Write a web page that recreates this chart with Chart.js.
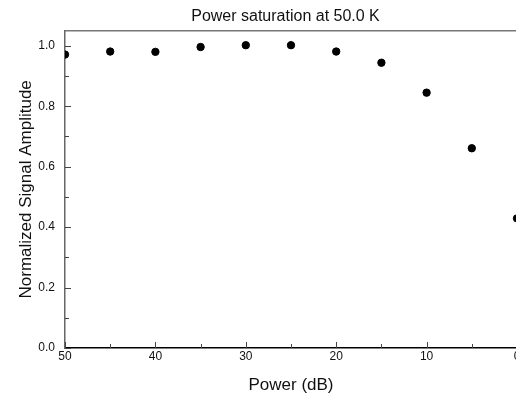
<!DOCTYPE html>
<html>
<head>
<meta charset="utf-8">
<script src="https://cdn.jsdelivr.net/npm/chart.js@4.4.1/dist/chart.umd.min.js"></script>
<style>
  html, body { margin: 0; padding: 0; background: #fff; overflow: hidden; }
  #wrap { width: 516px; height: 396px; overflow: hidden; }
  canvas { display: block; }
</style>
</head>
<body>
<div id="wrap"><canvas id="chart" width="571" height="396"></canvas></div>
<script>
// power saturation data
const powerDb = [50, 45, 40, 35, 30, 25, 20, 15, 10, 5, 0];
const amplitude = [0.971, 0.981, 0.980, 0.996, 1.002, 1.002, 0.981, 0.944, 0.845, 0.661, 0.429];

const xTicks = [50, 40, 30, 20, 10, 0];
const xMinor = [45, 35, 25, 15, 5];
const yTicks = [0.0, 0.2, 0.4, 0.6, 0.8, 1.0];
const yMinor = [0.1, 0.3, 0.5, 0.7, 0.9];

const FONT = '"Liberation Sans", Arial, sans-serif';

// inward tick marks like the original plotting package
const innerTicks = {
  id: 'innerTicks',
  afterDatasetsDraw(chart) {
    const { ctx, scales: { x, y } } = chart;
    ctx.save();
    ctx.strokeStyle = '#444';
    ctx.lineWidth = 1;
    const bottom = chart.chartArea.bottom, left = chart.chartArea.left;
    const xt = (v, len) => {
      const px = Math.round(x.getPixelForValue(v)) + 0.5;
      ctx.beginPath(); ctx.moveTo(px, bottom); ctx.lineTo(px, bottom - len); ctx.stroke();
    };
    const yt = (v, len) => {
      const py = Math.round(y.getPixelForValue(v)) + 0.5;
      ctx.beginPath(); ctx.moveTo(left, py); ctx.lineTo(left + len, py); ctx.stroke();
    };
    xTicks.forEach(v => xt(v, 6)); xMinor.forEach(v => xt(v, 4));
    yTicks.forEach(v => yt(v, 6)); yMinor.forEach(v => yt(v, 4));
    ctx.restore();
  }
};

new Chart(document.getElementById('chart'), {
  type: 'scatter',
  data: {
    datasets: [{
      data: powerDb.map((p, i) => ({ x: p, y: amplitude[i] })),
      backgroundColor: '#000',
      borderColor: '#000',
      pointRadius: 3.7,
      pointHoverRadius: 3.7,
      clip: 0
    }]
  },
  options: {
    responsive: false,
    animation: false,
    layout: { padding: 0 },
    plugins: {
      legend: { display: false },
      tooltip: { enabled: false },
      title: {
        display: true,
        text: 'Power saturation at 50.0 K',
        color: '#111',
        font: { family: FONT, size: 16, weight: 'normal' },
        padding: { top: 7.4, bottom: 4.1 }
      }
    },
    scales: {
      x: {
        type: 'linear', position: 'bottom', reverse: true, min: 0, max: 50,
        afterBuildTicks: s => { s.ticks = xTicks.map(v => ({ value: v })); },
        afterFit: s => { s.height = 48; },
        grid: { display: false, drawTicks: false },
        border: { display: true, color: '#000', width: 1.5 },
        ticks: { color: '#111', padding: 1, maxRotation: 0, autoSkip: false, font: { family: FONT, size: 12 } },
        title: { display: true, text: 'Power (dB)', color: '#111', font: { family: FONT, size: 17 }, padding: { top: 0, bottom: 0 } }
      },
      xTop: {
        type: 'linear', position: 'top', min: 0, max: 50,
        afterFit: s => { s.height = 0; },
        grid: { display: false, drawTicks: false },
        border: { display: true, color: '#777', width: 1.5 },
        ticks: { display: false }
      },
      y: {
        type: 'linear', position: 'left', min: 0, max: 1.05,
        afterBuildTicks: s => { s.ticks = yTicks.map(v => ({ value: v })); },
        afterFit: s => { s.width = 65; },
        grid: { display: false, drawTicks: false },
        border: { display: true, color: '#666', width: 1.5 },
        ticks: { color: '#111', padding: 10, font: { family: FONT, size: 12 }, callback: v => Number(v).toFixed(1) },
        title: { display: true, text: 'Normalized Signal Amplitude', color: '#111', font: { family: FONT, size: 17 }, padding: { top: 16, bottom: 0 } }
      },
      yRight: {
        type: 'linear', position: 'right', min: 0, max: 1,
        afterFit: s => { s.width = 54; },
        grid: { display: false, drawTicks: false },
        border: { display: false },
        ticks: { display: false }
      }
    }
  },
  plugins: [innerTicks]
});
</script>
</body>
</html>
